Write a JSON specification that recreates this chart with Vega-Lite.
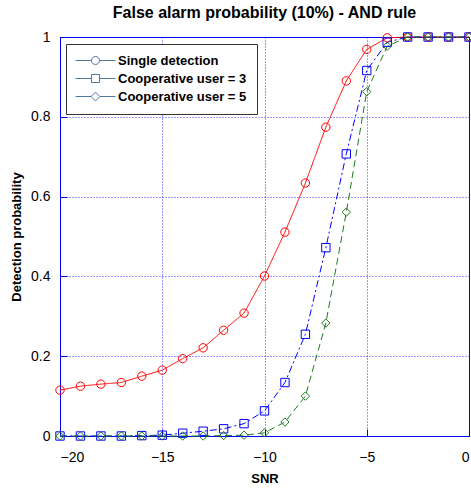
{
  "$schema": "https://vega.github.io/schema/vega-lite/v6.json",
  "width": 409,
  "height": 399,
  "autosize": {"type": "none"},
  "padding": {"left": 60, "top": 37, "right": 2, "bottom": 52},
  "background": "white",
  "title": {
    "text": "False alarm probability (10%) - AND rule",
    "font": "Liberation Sans",
    "fontSize": 16,
    "fontWeight": "bold",
    "color": "black",
    "anchor": "middle",
    "frame": "group",
    "baseline": "alphabetic",
    "offset": -4
  },
  "data": {
    "values": [
      {"snr": -20, "pd": 0.115, "series": "Single detection"},
      {"snr": -19, "pd": 0.125, "series": "Single detection"},
      {"snr": -18, "pd": 0.13, "series": "Single detection"},
      {"snr": -17, "pd": 0.134, "series": "Single detection"},
      {"snr": -16, "pd": 0.15, "series": "Single detection"},
      {"snr": -15, "pd": 0.165, "series": "Single detection"},
      {"snr": -14, "pd": 0.194, "series": "Single detection"},
      {"snr": -13, "pd": 0.221, "series": "Single detection"},
      {"snr": -12, "pd": 0.265, "series": "Single detection"},
      {"snr": -11, "pd": 0.308, "series": "Single detection"},
      {"snr": -10, "pd": 0.401, "series": "Single detection"},
      {"snr": -9, "pd": 0.511, "series": "Single detection"},
      {"snr": -8, "pd": 0.634, "series": "Single detection"},
      {"snr": -7, "pd": 0.774, "series": "Single detection"},
      {"snr": -6, "pd": 0.89, "series": "Single detection"},
      {"snr": -5, "pd": 0.969, "series": "Single detection"},
      {"snr": -4, "pd": 0.998, "series": "Single detection"},
      {"snr": -3, "pd": 1, "series": "Single detection"},
      {"snr": -2, "pd": 1, "series": "Single detection"},
      {"snr": -1, "pd": 1, "series": "Single detection"},
      {"snr": 0, "pd": 1, "series": "Single detection"},
      {"snr": -20, "pd": 0, "series": "Cooperative user = 3"},
      {"snr": -19, "pd": 0, "series": "Cooperative user = 3"},
      {"snr": -18, "pd": 0, "series": "Cooperative user = 3"},
      {"snr": -17, "pd": 0, "series": "Cooperative user = 3"},
      {"snr": -16, "pd": 0.001, "series": "Cooperative user = 3"},
      {"snr": -15, "pd": 0.002, "series": "Cooperative user = 3"},
      {"snr": -14, "pd": 0.007, "series": "Cooperative user = 3"},
      {"snr": -13, "pd": 0.012, "series": "Cooperative user = 3"},
      {"snr": -12, "pd": 0.018, "series": "Cooperative user = 3"},
      {"snr": -11, "pd": 0.031, "series": "Cooperative user = 3"},
      {"snr": -10, "pd": 0.063, "series": "Cooperative user = 3"},
      {"snr": -9, "pd": 0.134, "series": "Cooperative user = 3"},
      {"snr": -8, "pd": 0.255, "series": "Cooperative user = 3"},
      {"snr": -7, "pd": 0.472, "series": "Cooperative user = 3"},
      {"snr": -6, "pd": 0.707, "series": "Cooperative user = 3"},
      {"snr": -5, "pd": 0.916, "series": "Cooperative user = 3"},
      {"snr": -4, "pd": 0.987, "series": "Cooperative user = 3"},
      {"snr": -3, "pd": 1, "series": "Cooperative user = 3"},
      {"snr": -2, "pd": 1, "series": "Cooperative user = 3"},
      {"snr": -1, "pd": 1, "series": "Cooperative user = 3"},
      {"snr": 0, "pd": 1, "series": "Cooperative user = 3"},
      {"snr": -20, "pd": 0, "series": "Cooperative user = 5"},
      {"snr": -19, "pd": 0, "series": "Cooperative user = 5"},
      {"snr": -18, "pd": 0, "series": "Cooperative user = 5"},
      {"snr": -17, "pd": 0, "series": "Cooperative user = 5"},
      {"snr": -16, "pd": 0, "series": "Cooperative user = 5"},
      {"snr": -15, "pd": 0, "series": "Cooperative user = 5"},
      {"snr": -14, "pd": 0, "series": "Cooperative user = 5"},
      {"snr": -13, "pd": 0, "series": "Cooperative user = 5"},
      {"snr": -12, "pd": 0.001, "series": "Cooperative user = 5"},
      {"snr": -11, "pd": 0.002, "series": "Cooperative user = 5"},
      {"snr": -10, "pd": 0.008, "series": "Cooperative user = 5"},
      {"snr": -9, "pd": 0.035, "series": "Cooperative user = 5"},
      {"snr": -8, "pd": 0.1, "series": "Cooperative user = 5"},
      {"snr": -7, "pd": 0.283, "series": "Cooperative user = 5"},
      {"snr": -6, "pd": 0.561, "series": "Cooperative user = 5"},
      {"snr": -5, "pd": 0.863, "series": "Cooperative user = 5"},
      {"snr": -4, "pd": 0.977, "series": "Cooperative user = 5"},
      {"snr": -3, "pd": 1, "series": "Cooperative user = 5"},
      {"snr": -2, "pd": 1, "series": "Cooperative user = 5"},
      {"snr": -1, "pd": 1, "series": "Cooperative user = 5"},
      {"snr": 0, "pd": 1, "series": "Cooperative user = 5"}
    ]
  },
  "layer": [
    {
      "transform": [{"filter": "datum.snr > 100"}],
      "mark": {"type": "point", "filled": false, "strokeWidth": 1, "opacity": 1},
      "encoding": {
        "shape": {
          "field": "series", "type": "nominal",
          "scale": {
            "domain": ["Single detection", "Cooperative user = 3", "Cooperative user = 5"],
            "range": [
              "M-5,0H-1M1,0H5M1,0A1,1,0,1,1,-1,0A1,1,0,1,1,1,0",
              "M-5,0H-1M1,0H5M-1,-1H1V1H-1Z",
              "M-5,0H-1.1M1.1,0H5M-1.1,0L0,-1.1L1.1,0L0,1.1Z"
            ]
          },
          "legend": {
            "title": null,
            "orient": "none",
            "legendX": 6,
            "legendY": 7,
            "padding": 10,
            "strokeColor": "#333333",
            "fillColor": "white",
            "rowPadding": 4,
            "labelFont": "Liberation Sans",
            "labelFontSize": 13,
            "labelFontWeight": "bold",
            "symbolSize": 64,
            "symbolOffset": 13,
            "labelOffset": 16,
            "symbolStrokeWidth": 1,
            "symbolOpacity": 1,
            "encode": {
              "legend": {"update": {"strokeWidth": {"value": 1.5}}},
              "symbols": {
                "update": {
                  "stroke": {"signal": "datum.value == 'Single detection' ? '#ff0000' : (datum.value == 'Cooperative user = 3' ? '#0000ff' : '#1f7a1f')"},
                  "strokeDash": {"signal": "datum.value == 'Cooperative user = 3' ? [3,2,9,2] : (datum.value == 'Cooperative user = 5' ? [6,3,9,3,40,3] : [1,0])"}
                }
              },
              "labels": {
                "update": {
                  "fill": {"signal": "datum.value == 'Single detection' ? '#ff0000' : (datum.value == 'Cooperative user = 3' ? '#0000ff' : '#1f7a1f')"}
                }
              }
            }
          }
        }
      }
    },
    {
      "mark": {"type": "line", "strokeWidth": 1, "clip": false},
      "encoding": {
        "x": {
          "field": "snr", "type": "quantitative",
          "scale": {"domain": [-20, 0], "nice": false},
          "axis": {
            "title": "SNR",
            "values": [-20, -15, -10, -5, 0],
            "format": "d",
            "tickSize": -7,
            "labelPadding": 21,
            "titlePadding": 8,
            "grid": true
          }
        },
        "y": {
          "field": "pd", "type": "quantitative",
          "scale": {"domain": [0, 1], "nice": false},
          "axis": {
            "title": "Detection probability",
            "values": [0, 0.2, 0.4, 0.6, 0.8, 1],
            "format": "~g",
            "tickSize": -7,
            "labelPadding": 17,
            "titlePadding": 7,
            "grid": true
          }
        },
        "color": {
          "field": "series", "type": "nominal",
          "scale": {
            "domain": ["Single detection", "Cooperative user = 3", "Cooperative user = 5"],
            "range": ["#ff0000", "#0000ff", "#1f7a1f"]
          },
          "legend": null
        },
        "strokeDash": {
          "field": "series", "type": "nominal",
          "scale": {
            "domain": ["Single detection", "Cooperative user = 3", "Cooperative user = 5"],
            "range": [[1, 0], [7, 3, 2, 3], [7, 4]]
          },
          "legend": null
        },
        "detail": {"field": "series"}
      }
    },
    {
      "mark": {"type": "point", "filled": false, "strokeWidth": 1, "size": 70, "opacity": 1, "clip": false},
      "encoding": {
        "x": {"field": "snr", "type": "quantitative"},
        "y": {"field": "pd", "type": "quantitative"},
        "color": {"field": "series", "type": "nominal", "legend": null},
        "shape": {
          "field": "series", "type": "nominal",
          "scale": {
            "domain": ["Single detection", "Cooperative user = 3", "Cooperative user = 5"],
            "range": ["circle", "square", "diamond"]
          },
          "legend": null
        }
      }
    }
  ],
  "resolve": {"scale": {"shape": "independent"}, "legend": {"shape": "independent"}},
  "config": {
    "view": {"stroke": "#0000ff", "strokeWidth": 1},
    "axis": {
      "domainColor": "#0000ff",
      "domainWidth": 1,
      "tickColor": "#0000ff",
      "tickWidth": 1,
      "gridColor": "#0000ff",
      "gridDash": [1, 2],
      "gridOpacity": 0.8,
      "gridWidth": 1,
      "labelColor": "black",
      "labelFont": "Liberation Sans",
      "labelFontSize": 14,
      "titleFont": "Liberation Sans",
      "titleFontSize": 13,
      "titleFontWeight": "bold",
      "titleColor": "black"
    }
  }
}
